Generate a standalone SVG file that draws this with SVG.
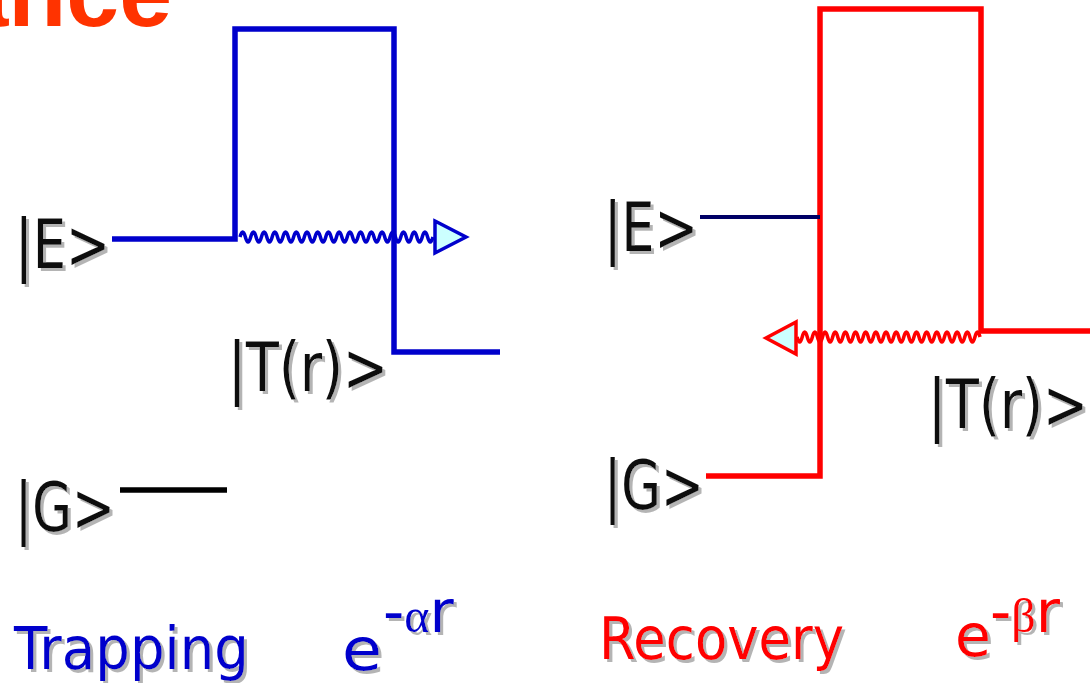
<svg xmlns="http://www.w3.org/2000/svg" width="1090" height="683" viewBox="0 0 1090 683">
<defs>
<filter id="sh" x="-10%" y="-10%" width="130%" height="130%">
<feOffset in="SourceAlpha" dx="3" dy="3" result="o"/>
<feFlood flood-color="#b4b4b4"/>
<feComposite in2="o" operator="in" result="s"/>
<feMerge><feMergeNode in="s"/><feMergeNode in="SourceGraphic"/></feMerge>
</filter>
</defs>
<style>
.lbl{font-family:"DejaVu Sans",sans-serif;font-size:68px;fill:#111;filter:url(#sh)}
.cap{font-family:"DejaVu Sans",sans-serif;font-size:59px;filter:url(#sh)}
.blue{fill:#0000CC}
.red{fill:#FF0000}
.gr{font-family:"Liberation Serif",serif}
.bl{fill:none;stroke:#0000CC;stroke-width:5.5;stroke-linejoin:miter}
.rl{fill:none;stroke:#FF0000;stroke-width:5.5;stroke-linejoin:miter}
.wb{fill:none;stroke:#0000CC;stroke-width:3.5}
.wr{fill:none;stroke:#FF0000;stroke-width:3.5}
</style>
<rect width="1090" height="683" fill="#fff"/>
<text x="172" y="26" text-anchor="end" font-family="Liberation Sans, Arial, sans-serif" font-weight="bold" font-size="95" fill="#FF3300">ance</text>

<g id="trapping">
<path class="bl" d="M112,239 H235 V29 H394 V352 H500"/>
<line x1="120" y1="490" x2="227" y2="490" stroke="#000" stroke-width="5.5"/>
<text class="lbl" x="15" y="268" textLength="95" lengthAdjust="spacingAndGlyphs">|E&gt;</text>
<text class="lbl" x="228" y="391" textLength="160" lengthAdjust="spacingAndGlyphs">|T(r)&gt;</text>
<text class="lbl" x="15" y="531" textLength="100" lengthAdjust="spacingAndGlyphs">|G&gt;</text>
<text class="cap blue" x="14" y="669" textLength="235" lengthAdjust="spacingAndGlyphs">Trapping</text>
<text class="cap blue" x="342" y="670" font-size="60" textLength="40" lengthAdjust="spacingAndGlyphs">e</text>
<text class="cap blue" x="383" y="632" font-size="42">-<tspan class="gr" font-size="48">α</tspan>r</text>
</g>

<g id="recovery">
<path class="rl" d="M706,476 H820 V9 H981 V331 H1090"/>
<line x1="700" y1="217" x2="820" y2="217" stroke="#000066" stroke-width="4"/>
<text class="lbl" x="604" y="251" textLength="94" lengthAdjust="spacingAndGlyphs">|E&gt;</text>
<text class="lbl" x="928" y="428" textLength="160" lengthAdjust="spacingAndGlyphs">|T(r)&gt;</text>
<text class="lbl" x="604" y="509" textLength="100" lengthAdjust="spacingAndGlyphs">|G&gt;</text>
<text class="cap red" x="599" y="659" textLength="245" lengthAdjust="spacingAndGlyphs">Recovery</text>
<text class="cap red" x="955" y="656" font-size="60" textLength="36" lengthAdjust="spacingAndGlyphs">e</text>
<text class="cap red" x="990" y="632" font-size="42">-<tspan class="gr" font-size="48">β</tspan>r</text>
</g>

<g id="connectors">
<path class="wb" d="M240,237 q2.68,-10 5.36,0 t5.36,0 t5.36,0 t5.36,0 t5.36,0 t5.36,0 t5.36,0 t5.36,0 t5.36,0 t5.36,0 t5.36,0 t5.36,0 t5.36,0 t5.36,0 t5.36,0 t5.36,0 t5.36,0 t5.36,0 t5.36,0 t5.36,0 t5.36,0 t5.36,0 t5.36,0 t5.36,0 t5.36,0 t5.36,0 t5.36,0 t5.36,0 t5.36,0 t5.36,0 t5.36,0 t5.36,0 t5.36,0 t5.36,0 t5.36,0 t5.36,0"/>
<polygon points="435,221 466,237 435,253" fill="#CCFFFF" stroke="#0000CC" stroke-width="3.5"/>
<path class="wr" d="M980,337 q-2.54,-10 -5.08,0 t-5.08,0 t-5.08,0 t-5.08,0 t-5.08,0 t-5.08,0 t-5.08,0 t-5.08,0 t-5.08,0 t-5.08,0 t-5.08,0 t-5.08,0 t-5.08,0 t-5.08,0 t-5.08,0 t-5.08,0 t-5.08,0 t-5.08,0 t-5.08,0 t-5.08,0 t-5.08,0 t-5.08,0 t-5.08,0 t-5.08,0 t-5.08,0 t-5.08,0 t-5.08,0 t-5.08,0 t-5.08,0 t-5.08,0 t-5.08,0 t-5.08,0 t-5.08,0 t-5.08,0 t-5.08,0 t-5.08,0"/>
<polygon points="796,322 766,338 796,354" fill="#CCFFFF" stroke="#FF0000" stroke-width="3.5"/>
</g>
</svg>
